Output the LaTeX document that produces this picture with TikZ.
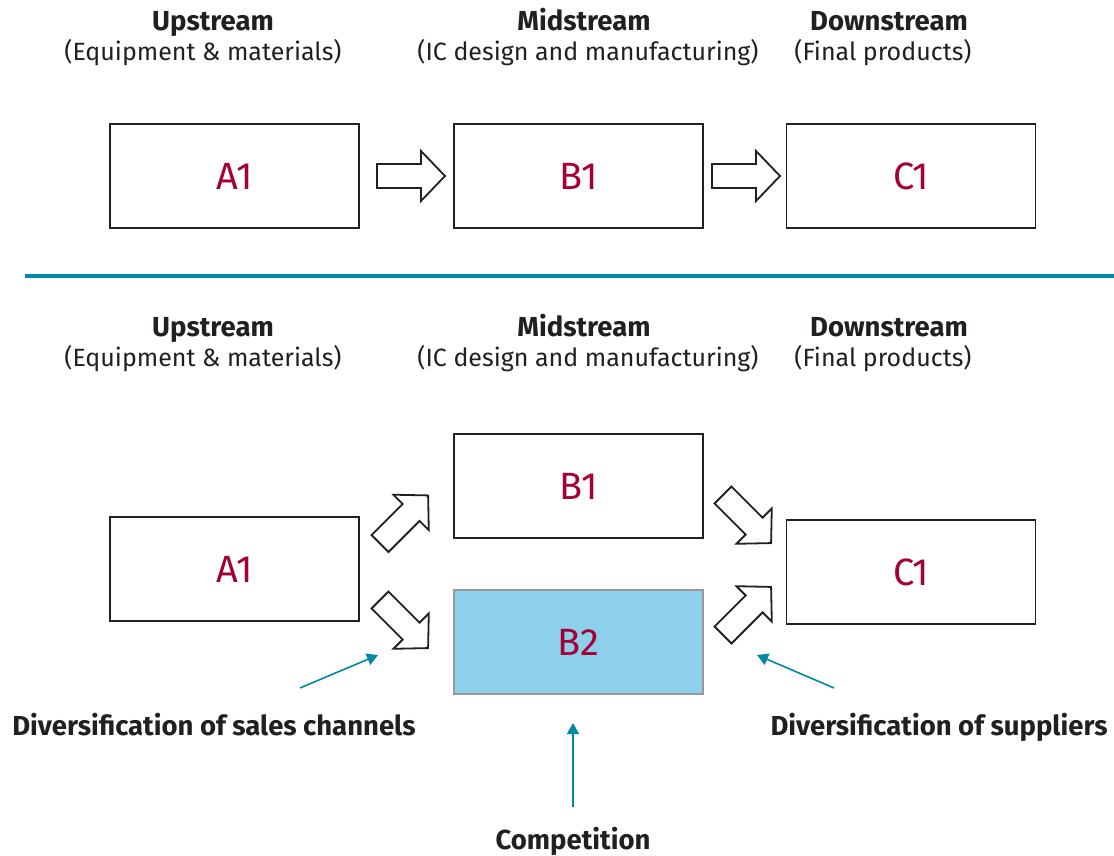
\documentclass[tikz,border=0pt]{standalone}
\usepackage{fontspec}
\setmainfont{Fira Sans}
\usetikzlibrary{arrows.meta}
\definecolor{teal1}{RGB}{0,137,167}
\definecolor{lblred}{RGB}{165,0,52}
\definecolor{boxblue}{RGB}{142,207,235}
\definecolor{ink}{RGB}{35,31,32}
\tikzset{
  stagebox/.style={draw=ink,line width=1.8pt,minimum width=249pt,minimum height=104pt,inner sep=0pt,
     text=lblred,font=\fontsize{38}{42}\selectfont},
  bluebox/.style={stagebox,draw=black!40,fill=boxblue},
  headt/.style={anchor=base,font=\bfseries\fontsize{27.5}{30}\selectfont,text=ink},
  subt/.style={anchor=base,font=\fontsize{25}{28}\selectfont,text=ink},
  notet/.style={anchor=base,font=\bfseries\fontsize{27.5}{30}\selectfont,text=ink},
  barrow/.style={draw=ink,line width=1.8pt,fill=white,line join=miter},
  notearrow/.style={draw=teal1,line width=1.6pt,-{Triangle[length=11pt,width=12pt]}},
}
\newcommand{\blockarrow}[3]{\draw[barrow,shift={(#1,#2)},rotate=#3]
  (0,-12) -- (44,-12) -- (44,-25) -- (68,0) -- (44,25) -- (44,12) -- (0,12) -- cycle;}
\begin{document}
\begin{tikzpicture}[x=1pt,y=-1pt]
\useasboundingbox (0,0) rectangle (1114,856);
% ---------- top section ----------
\node[headt] (hu1) at (213,31) {Upstream};
\node[subt]  (su1) at (203,61) {(Equipment \& materials)};
\node[headt] (hm1) at (584,31) {Midstream};
\node[subt]  (sm1) at (588,61) {(IC design and manufacturing)};
\node[headt] (hd1) at (889,31) {Downstream};
\node[subt]  (sd1) at (883,61) {(Final products)};

\node[stagebox] (a1t) at (234.5,176) {A1};
\node[stagebox] (b1t) at (578.5,176) {B1};
\node[stagebox] (c1t) at (911,176) {C1};

\blockarrow{377}{176}{0}
\blockarrow{712}{176}{0}

\draw[teal1,line width=4pt] (25,276) -- (1114,276);

% ---------- bottom section ----------
\node[headt] (hu2) at (213,336) {Upstream};
\node[subt]  (su2) at (203,366) {(Equipment \& materials)};
\node[headt] (hm2) at (584,336) {Midstream};
\node[subt]  (sm2) at (588,366) {(IC design and manufacturing)};
\node[headt] (hd2) at (889,336) {Downstream};
\node[subt]  (sd2) at (883,366) {(Final products)};

\node[stagebox] (b1b) at (578.5,486) {B1};
\node[stagebox] (a1b) at (234.5,569) {A1};
\node[stagebox] (c1b) at (911,572) {C1};
\node[bluebox]  (b2b) at (578.5,642) {B2};

\blockarrow{380}{543.5}{45}
\blockarrow{380}{600}{-45}
\blockarrow{723}{495}{-45}
\blockarrow{723}{635}{45}

% ---------- notes ----------
\node[notet] (n1) at (214,735) {Diversification of sales channels};
\node[notet] (n2) at (573,849) {Competition};
\node[notet] (n3) at (939,735) {Diversification of suppliers};

\coordinate (t1s) at (300,688);
\coordinate (t1e) at (378,655);
\coordinate (t2s) at (573,807);
\coordinate (t2e) at (573,723);
\coordinate (t3s) at (834,688);
\coordinate (t3e) at (757,655);
\draw[notearrow] (t1s) -- (t1e);
\draw[notearrow] (t2s) -- (t2e);
\draw[notearrow] (t3s) -- (t3e);
\end{tikzpicture}
\end{document}
